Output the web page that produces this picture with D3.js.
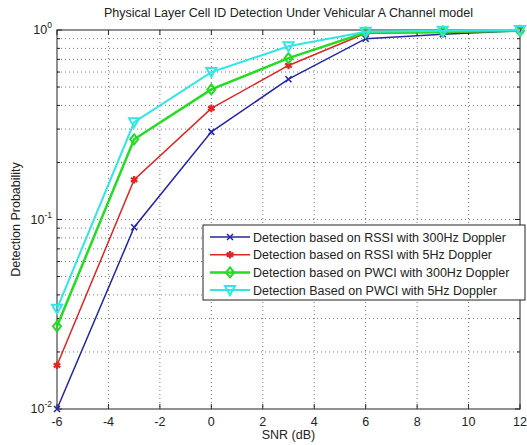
<html>
<head>
<meta charset="utf-8">
<style>
body { margin: 0; background: #fff; }
text { font-family: "Liberation Sans", Arial, sans-serif; fill: #222; }
.grid line { stroke: #555; stroke-dasharray: 1,3; stroke-width: 0.8; }
.frame { fill: none; stroke: #222; stroke-width: 1; }
</style>
</head>
<body>
<svg width="527" height="445"></svg>
<script src="https://cdn.jsdelivr.net/npm/d3@7"></script>
<script>
// data
var snr = [-6, -3, 0, 3, 6, 9, 12];
var rssi300 = [0.010, 0.091, 0.29, 0.55, 0.90, 0.95, 0.99];
var rssi5 = [0.017, 0.162, 0.386, 0.65, 0.96, 0.97, 0.99];
var pwci300 = [0.0273, 0.265, 0.486, 0.71, 0.97, 0.98, 0.99];
var pwci5 = [0.0338, 0.326, 0.60, 0.82, 0.98, 0.99, 1.0];
var seriesNames = [
  "Detection based on RSSI with 300Hz Doppler",
  "Detection based on RSSI with 5Hz Doppler",
  "Detection based on PWCI with 300Hz Doppler",
  "Detection Based on PWCI with 5Hz Doppler"
];
var xTicks = [-6, -4, -2, 0, 2, 4, 6, 8, 10, 12];

var series = [
  {name: seriesNames[0], vals: rssi300, color: "#2424a8", width: 1.5, marker: "x"},
  {name: seriesNames[1], vals: rssi5, color: "#e02424", width: 1.5, marker: "star"},
  {name: seriesNames[2], vals: pwci300, color: "#22dd22", width: 2.5, marker: "diamond"},
  {name: seriesNames[3], vals: pwci5, color: "#33e6e6", width: 2, marker: "tri"}
];

var svg = d3.select("svg");
var pL = 57, pR = 520, pT = 30, pB = 409;
var fs = 12.5;

var x = d3.scaleLinear().domain([-6, 12]).range([pL, pR]);
var y = d3.scaleLog().domain([0.01, 1]).range([pB, pT]);

// grid
var grid = svg.append("g").attr("class", "grid");
xTicks.slice(1, -1).forEach(function(t) {
  grid.append("line").attr("x1", x(t)).attr("x2", x(t)).attr("y1", pT).attr("y2", pB);
});
var yGrid = [];
[0.01, 0.1].forEach(function(d) { for (var k = 1; k < 10; k++) yGrid.push(d * k); });
yGrid.slice(1).forEach(function(v) {
  grid.append("line").attr("x1", pL).attr("x2", pR).attr("y1", y(v)).attr("y2", y(v));
});

// inner ticks
var ticks = svg.append("g").attr("stroke", "#222");
xTicks.forEach(function(t) {
  ticks.append("line").attr("x1", x(t)).attr("x2", x(t)).attr("y1", pB).attr("y2", pB - 5);
  ticks.append("line").attr("x1", x(t)).attr("x2", x(t)).attr("y1", pT).attr("y2", pT + 5);
});
yGrid.concat([1]).forEach(function(v) {
  var len = (Math.abs(Math.log10(v) - Math.round(Math.log10(v))) < 1e-9) ? 5 : 3;
  ticks.append("line").attr("x1", pL).attr("x2", pL + len).attr("y1", y(v)).attr("y2", y(v));
  ticks.append("line").attr("x1", pR).attr("x2", pR - len).attr("y1", y(v)).attr("y2", y(v));
});

svg.append("rect").attr("class", "frame")
  .attr("x", pL).attr("y", pT).attr("width", pR - pL).attr("height", pB - pT);

// tick labels
xTicks.forEach(function(t) {
  svg.append("text").attr("x", x(t)).attr("y", pB + 17).attr("text-anchor", "middle")
    .attr("font-size", fs).text(t);
});
[0.01, 0.1, 1].forEach(function(v) {
  var tx = svg.append("text").attr("x", pL - 5).attr("y", y(v) + 4).attr("text-anchor", "end")
    .attr("font-size", fs);
  tx.append("tspan").text("10");
  tx.append("tspan").attr("dy", -6).attr("font-size", 8.5).text(Math.round(Math.log10(v)));
});

// titles
svg.append("text").attr("x", (pL + pR) / 2).attr("y", 17).attr("text-anchor", "middle")
  .attr("font-size", fs).text("Physical Layer Cell ID Detection Under Vehicular A Channel model");
svg.append("text").attr("x", (pL + pR) / 2).attr("y", 439).attr("text-anchor", "middle")
  .attr("font-size", fs).text("SNR (dB)");
svg.append("text").attr("transform", "translate(20," + ((pT + pB) / 2) + ") rotate(-90)")
  .attr("text-anchor", "middle").attr("font-size", fs).text("Detection Probability");

function drawMarker(g, type, cx, cy, color) {
  if (type === "x") {
    g.append("path").attr("d", "M" + (cx - 3) + "," + (cy - 3) + "L" + (cx + 3) + "," + (cy + 3) +
      "M" + (cx - 3) + "," + (cy + 3) + "L" + (cx + 3) + "," + (cy - 3))
      .attr("stroke", color).attr("stroke-width", 1.5).attr("fill", "none");
  } else if (type === "star") {
    g.append("path").attr("d", d3.symbol().type(d3.symbolAsterisk).size(40)())
      .attr("transform", "translate(" + cx + "," + cy + ")")
      .attr("stroke", color).attr("stroke-width", 2.2).attr("fill", "none");
  } else if (type === "diamond") {
    g.append("path").attr("d", "M" + cx + "," + (cy - 5) + "L" + (cx + 4) + "," + cy + "L" + cx + "," + (cy + 5) + "L" + (cx - 4) + "," + cy + "Z")
      .attr("stroke", color).attr("stroke-width", 2).attr("fill", "none");
  } else {
    g.append("path").attr("d", "M" + (cx - 5) + "," + (cy - 4) + "L" + (cx + 5) + "," + (cy - 4) + "L" + cx + "," + (cy + 5) + "Z")
      .attr("stroke", color).attr("stroke-width", 2).attr("fill", "none");
  }
}

var line = d3.line().x(function(d, i) { return x(snr[i]); }).y(function(d) { return y(d); });

series.forEach(function(s) {
  var g = svg.append("g");
  g.append("path").datum(s.vals).attr("d", line).attr("fill", "none")
    .attr("stroke", s.color).attr("stroke-width", s.width);
  s.vals.forEach(function(v, i) { drawMarker(g, s.marker, x(snr[i]), y(v), s.color); });
});

// legend
var lg = svg.append("g");
lg.append("rect").attr("x", 203).attr("y", 225).attr("width", 322).attr("height", 75)
  .attr("fill", "#fff").attr("stroke", "#222");
series.forEach(function(s, i) {
  var ly = 237 + i * 17.7;
  lg.append("line").attr("x1", 210).attr("x2", 250).attr("y1", ly).attr("y2", ly)
    .attr("stroke", s.color).attr("stroke-width", s.width);
  drawMarker(lg, s.marker, 230, ly, s.color);
  lg.append("text").attr("x", 253).attr("y", ly + 4.5).attr("font-size", fs).text(s.name);
});
</script>
</body>
</html>
